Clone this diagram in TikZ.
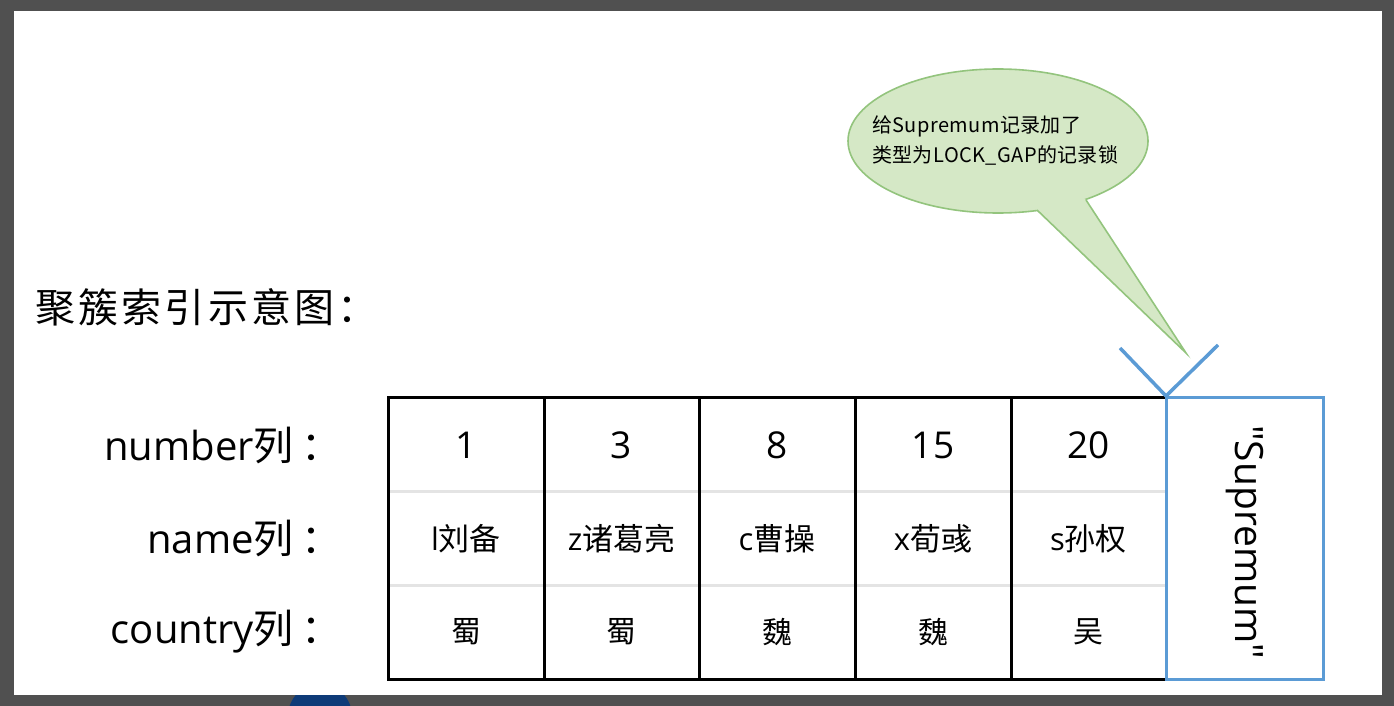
\documentclass[tikz,border=0pt]{standalone}
\usepackage{fontspec}
\setmainfont{Noto Sans CJK SC}
\newfontfamily\lat{Open Sans}
\newfontfamily\titlef[LetterSpace=8]{Noto Sans CJK SC}
\newfontfamily\callf[LetterSpace=2]{Noto Sans CJK SC}
\definecolor{bggray}{HTML}{505050}
\definecolor{supblue}{HTML}{5B9BD5}
\definecolor{callfill}{HTML}{D5E8C6}
\definecolor{calldraw}{HTML}{93C47D}
\definecolor{divgray}{HTML}{E4E4E4}
\definecolor{darkblue}{HTML}{0E3B78}
\tikzset{
  numtxt/.style={font=\lat\fontsize{37}{40}\selectfont, inner sep=0pt},
  nametxt/.style={font=\fontsize{31}{33}\selectfont, inner sep=0pt},
  ctrytxt/.style={font=\fontsize{30}{32}\selectfont, inner sep=0pt},
  lbltxt/.style={font=\fontsize{40}{42}\selectfont, inner sep=0pt, anchor=east},
  blackline/.style={line width=3pt, black},
  divline/.style={line width=3pt, divgray},
  blueline/.style={line width=3pt, supblue},
}
\begin{document}
\begin{tikzpicture}[x=1pt,y=-1pt]
\useasboundingbox (0,0) rectangle (1394,706);
% background
\fill[bggray] (0,0) rectangle (1394,706);
\fill[darkblue] (320,716) circle (32);
\fill[white] (14,11) rectangle (1382,695);

% title
\node[anchor=west, inner sep=0pt, font=\titlef\fontsize{40}{42}\selectfont] (title) at (35,307) {聚簇索引示意图：};

% row labels
\node[lbltxt] (lnum) at (342,445) {{\lat number}列\hspace{8pt}：};
\node[lbltxt] (lname) at (342,538) {{\lat name}列\hspace{8pt}：};
\node[lbltxt] (lctry) at (342,632) {{\lat country}列\hspace{8pt}：};

% gray dividers
\draw[divline] (388,491) -- (1166,491);
\draw[divline] (388,585) -- (1166,585);

% black table
\draw[blackline] (1166,397) -- (388,397) -- (388,679) -- (1166,679);
\foreach \xx in {544,699,855,1011}
  \draw[blackline] (\xx,397) -- (\xx,679);

% supremum box
\draw[blueline] (1166,397) rectangle (1323,679);
\node[rotate=-90, inner sep=0pt, font=\lat\fontsize{39}{41}\selectfont] (sup) at (1245,542) {\char34 Supremum\char34};

% cells
\node[numtxt] (n1) at (466,445) {1};
\node[numtxt] (n2) at (621.5,445) {3};
\node[numtxt] (n3) at (777,445) {8};
\node[numtxt] (n4) at (933,445) {15};
\node[numtxt] (n5) at (1088.5,445) {20};
\node[nametxt] (m1) at (466,539) {{\lat l}刘备};
\node[nametxt] (m2) at (621.5,539) {{\lat z}诸葛亮};
\node[nametxt] (m3) at (777,539) {{\lat c}曹操};
\node[nametxt] (m4) at (933,539) {{\lat x}荀彧};
\node[nametxt] (m5) at (1088.5,539) {{\lat s}孙权};
\node[ctrytxt] (c1) at (466,632) {蜀};
\node[ctrytxt] (c2) at (621.5,632) {蜀};
\node[ctrytxt] (c3) at (777,632) {魏};
\node[ctrytxt] (c4) at (933,632) {魏};
\node[ctrytxt] (c5) at (1088.5,632) {吴};

% callout
\coordinate (cc) at (998,141);
\coordinate (tl) at (1037,210);
\coordinate (tr) at (1086,200);
\coordinate (tip) at (1186,353);
\fill[callfill] (cc) ellipse [x radius=150, y radius=72];
\draw[calldraw, line width=1.6pt] (cc) ellipse [x radius=150, y radius=72];
\fill[callfill] (tl) -- (tip) -- (tr) -- (cc) -- cycle;
\draw[calldraw, line width=1.6pt, line join=miter] (tl) -- (tip) -- (tr);
\node[anchor=west, align=left, inner sep=0pt, font=\callf\fontsize{20}{30}\selectfont] (ctext) at (872,141) {给Supremum记录加了\\类型为LOCK\_GAP的记录锁};

% blue V
\coordinate (vl) at (1120,348);
\coordinate (vr) at (1218,345);
\coordinate (vb) at (1166,396);
\draw[supblue, line width=3.5pt] (vl) -- (vb) -- (vr);
\end{tikzpicture}
\end{document}
